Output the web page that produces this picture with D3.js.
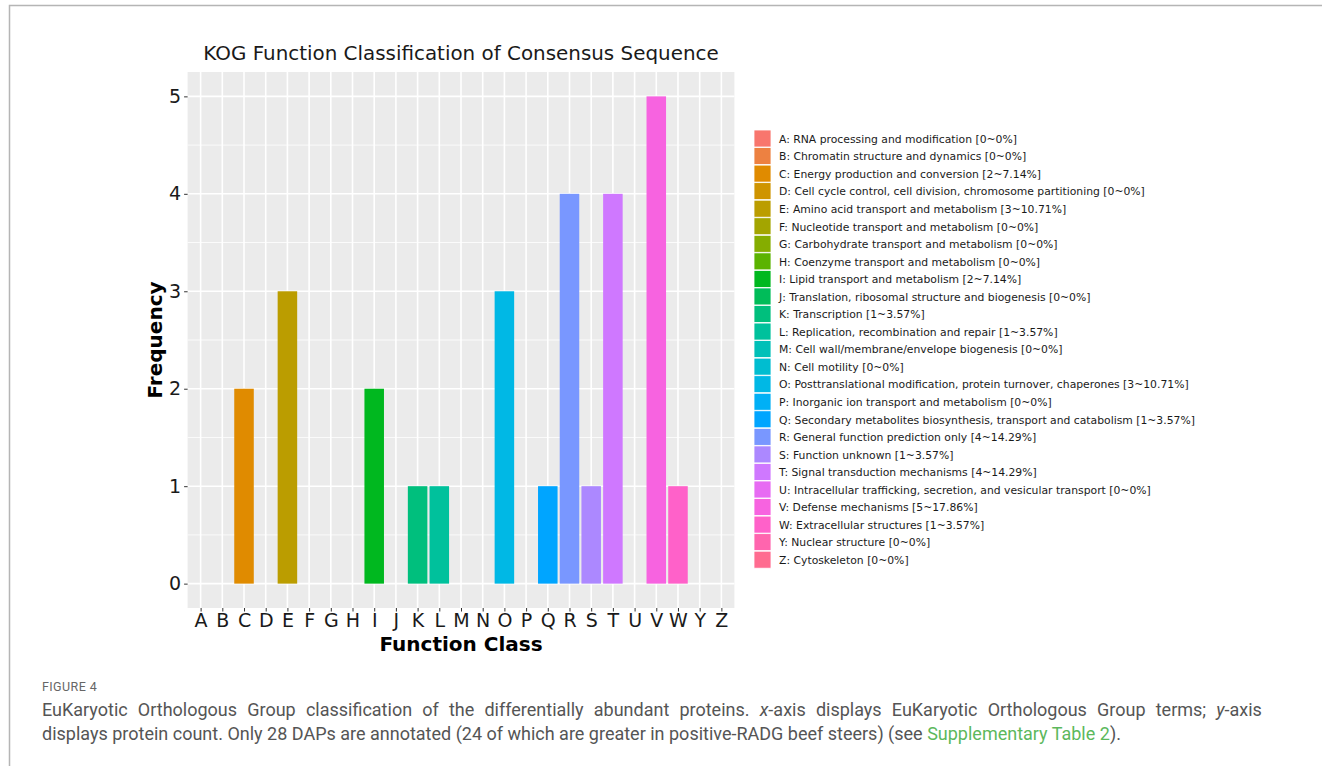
<!DOCTYPE html>
<html>
<head>
<meta charset="utf-8">
<script src="https://cdn.jsdelivr.net/npm/d3@7"></script>
<style>
  body { margin: 0; background: #fff; }
  svg { display: block; }
</style>
</head>
<body>
<script>
// KOG classes and protein counts
const classes = ["A","B","C","D","E","F","G","H","I","J","K","L","M","N","O","P","Q","R","S","T","U","V","W","Y","Z"];
const counts  = [0,0,2,0,3,0,0,0,2,0,1,1,0,0,3,0,1,4,1,4,0,5,1,0,0];
const descriptions = [
  "RNA processing and modification",
  "Chromatin structure and dynamics",
  "Energy production and conversion",
  "Cell cycle control, cell division, chromosome partitioning",
  "Amino acid transport and metabolism",
  "Nucleotide transport and metabolism",
  "Carbohydrate transport and metabolism",
  "Coenzyme transport and metabolism",
  "Lipid transport and metabolism",
  "Translation, ribosomal structure and biogenesis",
  "Transcription",
  "Replication, recombination and repair",
  "Cell wall/membrane/envelope biogenesis",
  "Cell motility",
  "Posttranslational modification, protein turnover, chaperones",
  "Inorganic ion transport and metabolism",
  "Secondary metabolites biosynthesis, transport and catabolism",
  "General function prediction only",
  "Function unknown",
  "Signal transduction mechanisms",
  "Intracellular trafficking, secretion, and vesicular transport",
  "Defense mechanisms",
  "Extracellular structures",
  "Nuclear structure",
  "Cytoskeleton"
];
const percents = ["0","0","7.14","0","10.71","0","0","0","7.14","0","3.57","3.57","0","0","10.71","0","3.57","14.29","3.57","14.29","0","17.86","3.57","0","0"];
const yTicks = [0,1,2,3,4,5];

const data = classes.map((c, i) => ({ cls: c, n: counts[i], label: `${c}: ${descriptions[i]} [${counts[i]}~${percents[i]}%]` }));

// ggplot2 default hue palette (polar LUV, l=65, c=100)
function hclLuv(h, c, l) {
  const Xn = 95.047, Yn = 100, Zn = 108.883;
  const rad = h * Math.PI / 180;
  const U = c * Math.cos(rad), V = c * Math.sin(rad);
  const Y = l > 8 ? Yn * Math.pow((l + 16) / 116, 3) : Yn * l / 903.3;
  const den = Xn + 15 * Yn + 3 * Zn;
  const un = 4 * Xn / den, vn = 9 * Yn / den;
  const up = U / (13 * l) + un, vp = V / (13 * l) + vn;
  const X = 9 * Y * up / (4 * vp);
  const Z = -X / 3 - 5 * Y + 3 * Y / vp;
  const x = X / 100, y = Y / 100, z = Z / 100;
  const lin = [
    3.240479 * x - 1.537150 * y - 0.498535 * z,
   -0.969256 * x + 1.875992 * y + 0.041556 * z,
    0.055648 * x - 0.204043 * y + 1.057311 * z
  ];
  const g = v => {
    const s = v <= 0.0031308 ? 12.92 * v : 1.055 * Math.pow(v, 1 / 2.4) - 0.055;
    return Math.round(Math.max(0, Math.min(1, s)) * 255);
  };
  return d3.rgb(g(lin[0]), g(lin[1]), g(lin[2])).formatHex();
}
const hueStep = 360 / classes.length;
const color = d3.scaleOrdinal()
  .domain(classes)
  .range(classes.map((c, i) => hclLuv(15 + i * hueStep, 100, 65)));

const width = 1322, height = 766;
const svg = d3.select("body").append("svg")
  .attr("width", width)
  .attr("height", height);

// page frame
svg.append("path")
  .attr("d", "M9.5,766V5.5H1322")
  .attr("fill", "none")
  .attr("stroke", "#b5b5b5")
  .attr("stroke-width", 1.5);

const panel = { left: 187.6, right: 734.4, top: 72, bottom: 608 };

// ggplot-like discrete expansion (0.6 of a band each side)
const step = (panel.right - panel.left) / (classes.length - 1 + 1.2);
const x = d3.scalePoint()
  .domain(classes)
  .range([panel.left + 0.6 * step, panel.right - 0.6 * step]);
const barW = step * 0.9;

const y = d3.scaleLinear()
  .domain([-0.25, 5.25])
  .range([panel.bottom, panel.top]);

const font = "'DejaVu Sans', sans-serif";

// panel background
svg.append("rect")
  .attr("x", panel.left).attr("y", panel.top)
  .attr("width", panel.right - panel.left)
  .attr("height", panel.bottom - panel.top)
  .attr("fill", "#ebebeb");

const grid = svg.append("g").attr("stroke", "#fff").attr("fill", "none");
// minor y grid
grid.selectAll(".minor")
  .data(d3.range(-0.5, 5.5, 1).filter(v => v > -0.25 && v < 5.25))
  .join("line")
  .attr("x1", panel.left).attr("x2", panel.right)
  .attr("y1", d => y(d)).attr("y2", d => y(d))
  .attr("stroke-width", 0.8);
grid.selectAll(".majorY")
  .data(yTicks)
  .join("line")
  .attr("x1", panel.left).attr("x2", panel.right)
  .attr("y1", d => y(d)).attr("y2", d => y(d))
  .attr("stroke-width", 1.6);
grid.selectAll(".majorX")
  .data(classes)
  .join("line")
  .attr("y1", panel.top).attr("y2", panel.bottom)
  .attr("x1", d => x(d)).attr("x2", d => x(d))
  .attr("stroke-width", 1.6);

// bars
svg.append("g")
  .selectAll("rect")
  .data(data.filter(d => d.n > 0))
  .join("rect")
  .attr("x", d => x(d.cls) - barW / 2)
  .attr("width", barW)
  .attr("y", d => y(d.n))
  .attr("height", d => y(0) - y(d.n))
  .attr("fill", d => color(d.cls));

// axes
const yAxis = svg.append("g")
  .attr("transform", `translate(${panel.left},0)`)
  .call(d3.axisLeft(y).tickValues(yTicks).tickSize(3.5).tickPadding(3).tickFormat(d3.format("d")));
const xAxis = svg.append("g")
  .attr("transform", `translate(0,${panel.bottom})`)
  .call(d3.axisBottom(x).tickSize(3.5).tickPadding(2));
[yAxis, xAxis].forEach(a => {
  a.select(".domain").remove();
  a.selectAll(".tick line").attr("stroke", "#333").attr("stroke-width", 1);
  a.selectAll(".tick text")
    .attr("fill", "#1a1a1a")
    .attr("font-family", font)
    .attr("font-size", 19);
});

// titles
svg.append("text")
  .attr("x", (panel.left + panel.right) / 2).attr("y", 60)
  .attr("text-anchor", "middle")
  .attr("font-family", font).attr("font-size", 19.9)
  .attr("fill", "#1a1a1a")
  .text("KOG Function Classification of Consensus Sequence");

svg.append("text")
  .attr("x", (panel.left + panel.right) / 2).attr("y", 651)
  .attr("text-anchor", "middle")
  .attr("font-family", font).attr("font-size", 20).attr("font-weight", "bold")
  .attr("fill", "#000")
  .text("Function Class");

svg.append("text")
  .attr("transform", `translate(162,${(panel.top + panel.bottom) / 2}) rotate(-90)`)
  .attr("text-anchor", "middle")
  .attr("font-family", font).attr("font-size", 20).attr("font-weight", "bold")
  .attr("fill", "#000")
  .text("Frequency");

// legend
const legendRow = 17.55;
const legend = svg.append("g")
  .attr("transform", "translate(754,130)")
  .selectAll("g")
  .data(data)
  .join("g")
  .attr("transform", (d, i) => `translate(0,${i * legendRow})`);
legend.append("rect")
  .attr("width", 17).attr("height", 17)
  .attr("fill", d => color(d.cls))
  .attr("stroke", "#fff").attr("stroke-width", 0.8);
legend.append("text")
  .attr("x", 25).attr("y", 9)
  .attr("dy", "0.35em")
  .attr("font-family", font).attr("font-size", 10.8)
  .attr("fill", "#1a1a1a")
  .text(d => d.label);

// figure caption (justified first line)
const capFont = "'Roboto', sans-serif";
svg.append("text")
  .attr("x", 42).attr("y", 691)
  .attr("font-family", capFont).attr("font-size", 12.5)
  .attr("letter-spacing", 0.4)
  .attr("fill", "#666")
  .text("FIGURE 4");

const cap1 = svg.append("text")
  .attr("x", 42).attr("y", 716)
  .attr("font-family", capFont).attr("font-size", 18)
  .attr("word-spacing", 5.7)
  .attr("fill", "#555");
cap1.append("tspan").text("EuKaryotic Orthologous Group classification of the differentially abundant proteins. ");
cap1.append("tspan").attr("font-style", "italic").text("x");
cap1.append("tspan").text("-axis displays EuKaryotic Orthologous Group terms; ");
cap1.append("tspan").attr("font-style", "italic").text("y");
cap1.append("tspan").text("-axis");

const cap2 = svg.append("text")
  .attr("x", 42).attr("y", 740)
  .attr("font-family", capFont).attr("font-size", 18)
  .attr("fill", "#555");
cap2.append("tspan").text("displays protein count. Only 28 DAPs are annotated (24 of which are greater in positive-RADG beef steers) (see ");
cap2.append("tspan").attr("fill", "#5cb85c").text("Supplementary Table 2");
cap2.append("tspan").text(").");
</script>
</body>
</html>
